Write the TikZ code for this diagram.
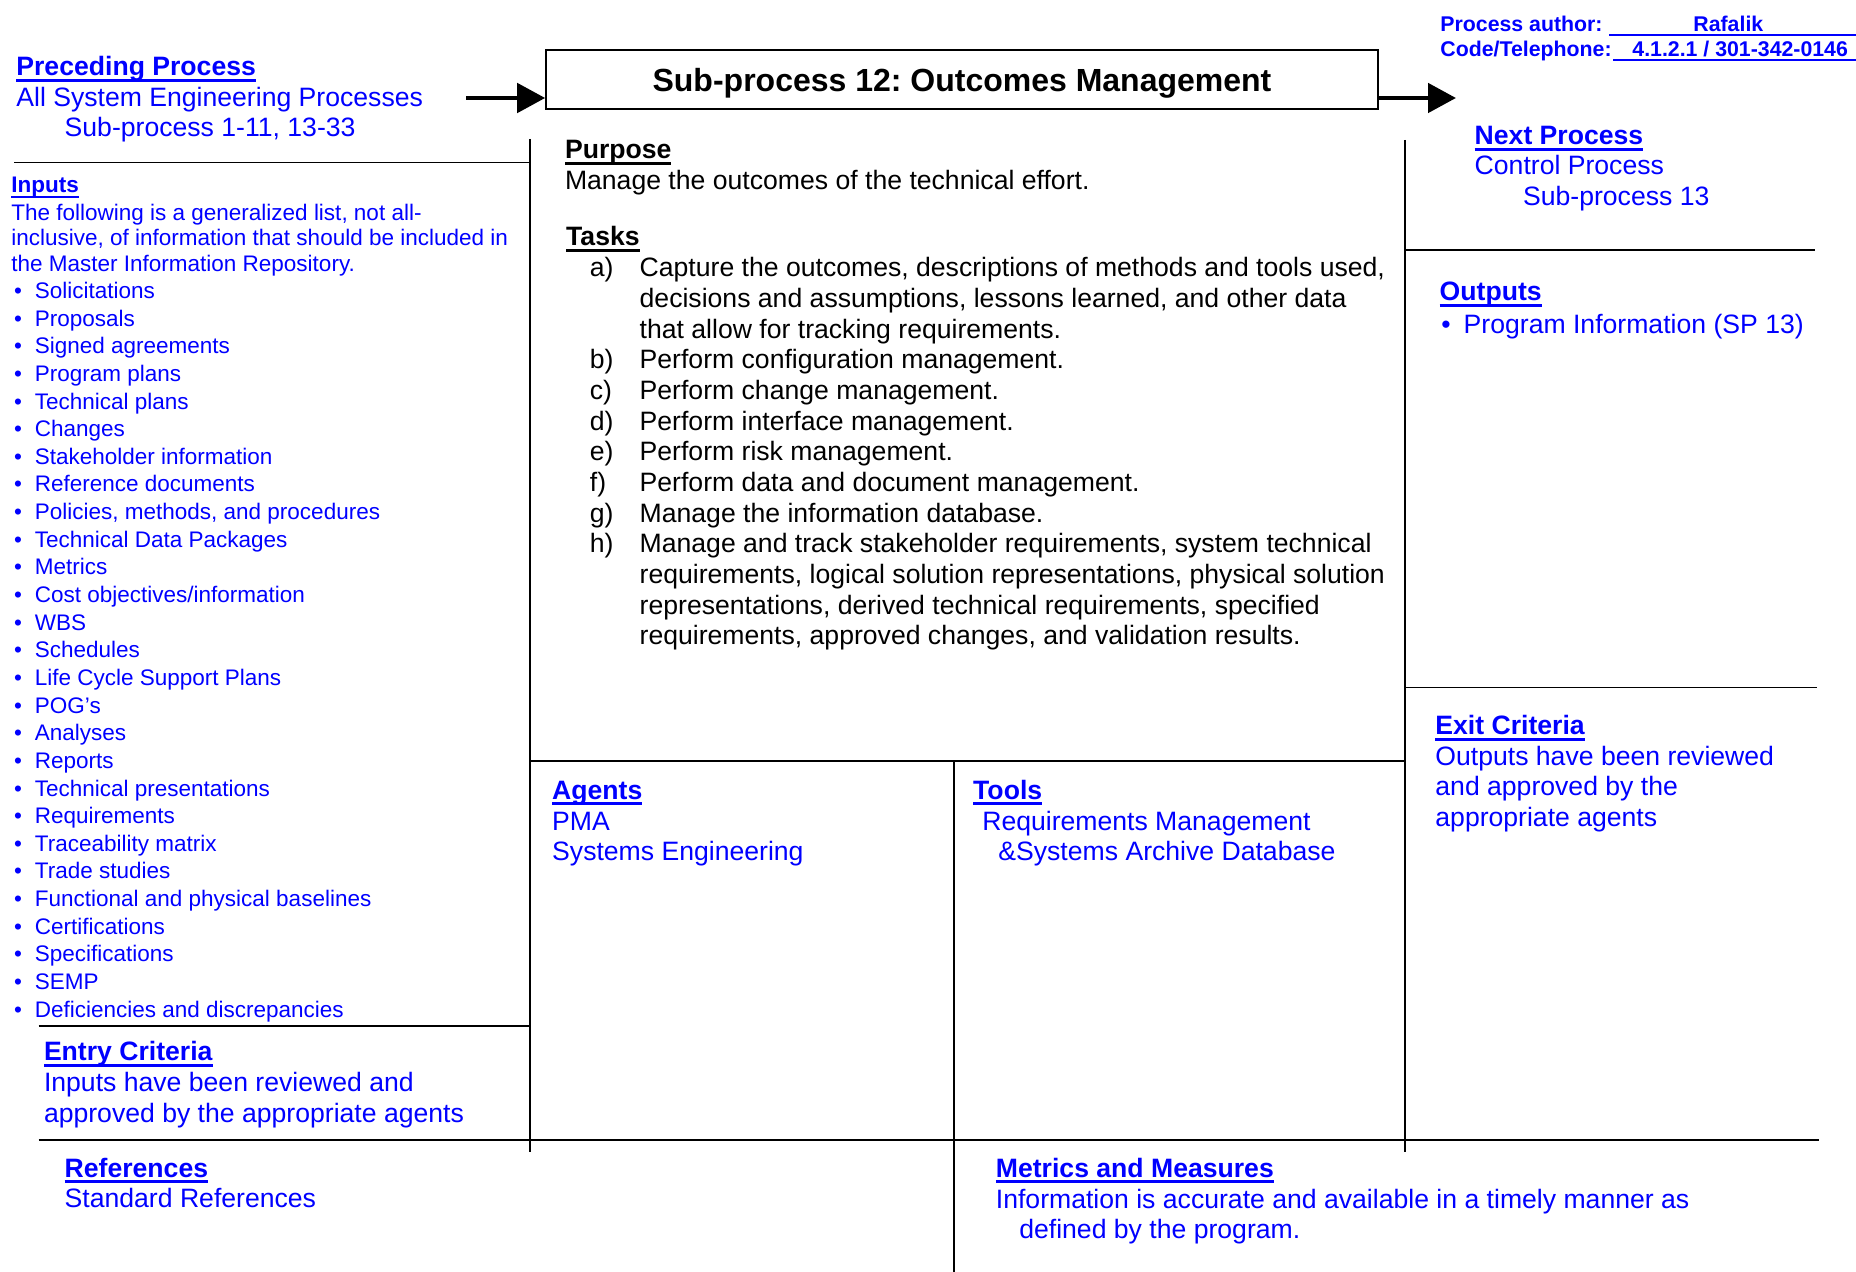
\documentclass[tikz,border=0pt]{standalone}
\usepackage{fontspec}
\setmainfont{Liberation Sans}
\usepackage{xcolor}
\definecolor{FormBlue}{HTML}{0000FF}
\usepackage{tikz}
\usetikzlibrary{arrows.meta}
\frenchspacing

% underlined heading, rule a little below the baseline
\newcommand{\ulhd}[1]{\setbox0\hbox{#1}\rlap{\vrule width\wd0 height -0.13em depth 0.23em}\box0}

\begin{document}
\begin{tikzpicture}[x=0.5pt,y=-0.5pt,
    every node/.style={anchor=base west,inner sep=0pt},
    body/.style={font=\fontsize{13.3}{16}\selectfont},
    bl/.style={body,text=FormBlue},
    hd/.style={font=\fontsize{13.3}{16}\selectfont\bfseries,text=FormBlue},
    small/.style={font=\fontsize{11.25}{13.5}\selectfont,text=FormBlue},
    hdsm/.style={font=\fontsize{11.25}{13.5}\selectfont\bfseries,text=FormBlue},
    auth/.style={font=\fontsize{10.65}{12.8}\selectfont\bfseries,text=FormBlue},
    titlebox/.style={draw,line width=0.8pt,anchor=base,align=center,
      minimum width=416pt,text height=21pt,text depth=8.5pt,
      font=\fontsize{16}{19}\selectfont\bfseries},
    rule/.style={line width=0.75pt},
    bigarr/.style={-{Triangle[length=14pt,width=14.5pt]},line width=2.4pt}]
    \useasboundingbox (0,0) rectangle (1856,1272);

    % frame of the form
    \draw[rule] (14,162.5) -- (530,162.5);
    \draw[rule] (530,139) -- (530,1152);
    \draw[rule] (1405,140) -- (1405,1152);
    \draw[rule] (1405,250) -- (1815,250);
    \draw[rule] (1405,687.5) -- (1817,687.5);
    \draw[rule] (530,761) -- (1405,761);
    \draw[rule] (954,761) -- (954,1272);
    \draw[rule] (38.6,1026) -- (530,1026);
    \draw[rule] (38.6,1140) -- (1819,1140);

    % title and flow arrows
    \node[titlebox] (title) at (962,92) {Sub-process 12: Outcomes Management};
    \coordinate (inarr) at (466,98);
    \coordinate (outarr) at (1456,98);
    \draw[bigarr] (inarr) -- (inarr -| title.west);
    \draw[bigarr] (title.east |- outarr) -- (outarr);

    % author block
    \node[auth] (auth) at (1440,31.5) {Process author:};
    \node[auth] (authname) at (1609,31.5) {\ulhd{\hbox to 123.5pt{\hskip 42pt Rafalik\hfil}}};
    \node[auth] (code) at (1440,56.5) {Code/Telephone:};
    \node[auth] (codeno) at (1613,56.5) {\ulhd{\hbox to 121.5pt{\hskip 9.5pt 4.1.2.1 / 301-342-0146\hfil}}};

    % preceding process
    \node[hd] (prec) at (16,76) {\ulhd{Preceding Process}};
    \node[bl] (precl1) at (16,106.5) {All System Engineering Processes};
    \node[bl] (precl2) at (64.3,137) {Sub-process 1-11, 13-33};

    % inputs
    \node[hdsm] (inp) at (11,193) {\ulhd{Inputs}};
    \node[small] (intro1) at (11,220.5) {The following is a generalized list, not all-};
    \node[small] (intro2) at (11,246) {inclusive, of information that should be included in};
    \node[small] (intro3) at (11,271.5) {the Master Information Repository.};
    \foreach \item [count=\i from 0] in {Solicitations,Proposals,Signed agreements,
        Program plans,Technical plans,Changes,Stakeholder information,
        Reference documents,{Policies, methods, and procedures},
        Technical Data Packages,Metrics,Cost objectives/information,WBS,Schedules,
        Life Cycle Support Plans,POG’s,Analyses,Reports,Technical presentations,
        Requirements,Traceability matrix,Trade studies,
        Functional and physical baselines,Certifications,Specifications,SEMP,
        Deficiencies and discrepancies}{
      \node[small] (bul\i) at (13.8,{298.5+\i*27.64}) {•};
      \node[small] (inp\i) at (34.5,{298.5+\i*27.64}) {\item};
    }

    % entry criteria and references
    \node[hd] (entry) at (43.6,1060.8) {\ulhd{Entry Criteria}};
    \node[bl] (entry1) at (43.6,1091.5) {Inputs have been reviewed and};
    \node[bl] (entry2) at (43.6,1122.5) {approved by the appropriate agents};
    \node[hd] (refs) at (64.3,1177) {\ulhd{References}};
    \node[bl] (refs1) at (64.3,1207) {Standard References};

    % purpose and tasks
    \node[body,font=\fontsize{13.3}{16}\selectfont\bfseries] (purp) at (564.6,159) {\ulhd{Purpose}};
    \node[body] (purp1) at (564.6,189.5) {Manage the outcomes of the technical effort.};
    \node[body,font=\fontsize{13.3}{16}\selectfont\bfseries] (tasks) at (565.8,246) {\ulhd{Tasks}};
    \foreach \lab/\ln in {a/0,b/3,c/4,d/5,e/6,f/7,g/8,h/9}{
      \node[body] (lab\lab) at (589.5,{277+\ln*30.65}) {\lab)};
    }
    \foreach \txt [count=\k from 0] in {
        {Capture the outcomes, descriptions of methods and tools used,},
        {decisions and assumptions, lessons learned, and other data},
        {that allow for tracking requirements.},
        {Perform configuration management.},
        {Perform change management.},
        {Perform interface management.},
        {Perform risk management.},
        {Perform data and document management.},
        {Manage the information database.},
        {Manage and track stakeholder requirements, system technical},
        {requirements, logical solution representations, physical solution},
        {representations, derived technical requirements, specified},
        {requirements, approved changes, and validation results.}}{
      \node[body] (task\k) at (639.3,{277+\k*30.65}) {\txt};
    }

    % agents, tools
    \node[hd] (agents) at (551.8,799) {\ulhd{Agents}};
    \node[bl] (agents1) at (551.8,830) {PMA};
    \node[bl] (agents2) at (551.8,860.5) {Systems Engineering};
    \node[hd] (tools) at (972.8,799) {\ulhd{Tools}};
    \node[bl] (tools1) at (981.9,830) {Requirements Management};
    \node[bl] (tools2) at (998,860.5) {\&Systems Archive Database};

    % metrics
    \node[hd] (metr) at (995.5,1177) {\ulhd{Metrics and Measures}};
    \node[bl] (metr1) at (995.5,1208) {Information is accurate and available in a timely manner as};
    \node[bl] (metr2) at (1018.9,1238.5) {defined by the program.};

    % next process, outputs, exit criteria
    \node[hd] (next) at (1474.3,144.5) {\ulhd{Next Process}};
    \node[bl] (next1) at (1474.3,175) {Control Process};
    \node[bl] (next2) at (1522.7,205.5) {Sub-process 13};
    \node[hd] (outp) at (1439.3,301) {\ulhd{Outputs}};
    \node[bl] (outbul) at (1441,334) {•};
    \node[bl] (outp1) at (1463.3,334) {Program Information (SP 13)};
    \node[hd] (exit) at (1435,734.5) {\ulhd{Exit Criteria}};
    \node[bl] (exit1) at (1435,765) {Outputs have been reviewed};
    \node[bl] (exit2) at (1435,795.5) {and approved by the};
    \node[bl] (exit3) at (1435,826) {appropriate agents};
  \end{tikzpicture}
\end{document}
